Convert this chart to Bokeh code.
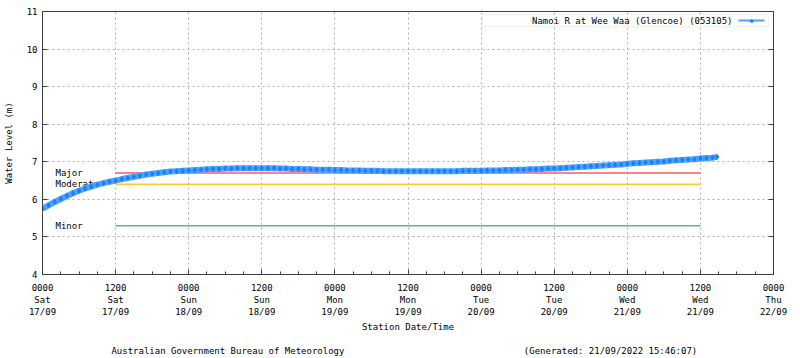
from bokeh.plotting import figure
from bokeh.layouts import column
from bokeh.models import (Range1d, FixedTicker, Label, Arrow, BoxAnnotation,
                          ColumnDataSource, LinearAxis)
from bokeh.core.properties import value
from bokeh.embed import file_html
from bokeh.resources import INLINE

# ---- data (hours since 0000 Sat 17/09/2022) ----
hours = list(range(0, 111)) + [110.75]
levels = [
    5.75, 5.84, 5.93, 6.01, 6.09, 6.16, 6.23, 6.29, 6.34, 6.39,
    6.43, 6.47, 6.50, 6.54, 6.57, 6.60, 6.63, 6.66, 6.68, 6.70,
    6.72, 6.74, 6.75, 6.76, 6.77, 6.78, 6.79, 6.80, 6.81, 6.81,
    6.82, 6.82, 6.83, 6.83, 6.83, 6.83, 6.83, 6.83, 6.83, 6.82,
    6.82, 6.81, 6.81, 6.80, 6.80, 6.79, 6.79, 6.79, 6.78, 6.78,
    6.77, 6.77, 6.77, 6.76, 6.76, 6.76, 6.75, 6.75, 6.75, 6.75,
    6.75, 6.75, 6.75, 6.75, 6.75, 6.75, 6.75, 6.75, 6.75, 6.76,
    6.76, 6.76, 6.76, 6.77, 6.77, 6.77, 6.78, 6.78, 6.79, 6.79,
    6.80, 6.80, 6.81, 6.82, 6.82, 6.83, 6.84, 6.85, 6.86, 6.87,
    6.88, 6.89, 6.90, 6.91, 6.92, 6.93, 6.95, 6.96, 6.97, 6.98,
    6.99, 7.00, 7.01, 7.03, 7.04, 7.05, 7.06, 7.07, 7.09, 7.10,
    7.11, 7.13,
]
series_name = "Namoi R at Wee Waa (Glencoe) (053105)"

threshold_names = ["Major", "Moderate", "Minor"]
threshold_levels = [6.7, 6.4, 5.3]
threshold_colors = ["#ff5a5a", "#ffc832", "#5cb87c"]
threshold_start = [12, 12, 12]
threshold_end = [108, 108, 108]

tick_hours = [0, 12, 24, 36, 48, 60, 72, 84, 96, 108, 120]
tick_labels = [
    "0000\nSat\n17/09", "1200\nSat\n17/09", "0000\nSun\n18/09",
    "1200\nSun\n18/09", "0000\nMon\n19/09", "1200\nMon\n19/09",
    "0000\nTue\n20/09", "1200\nTue\n20/09", "0000\nWed\n21/09",
    "1200\nWed\n21/09", "0000\nThu\n22/09",
]
minor_tick_hours = list(range(0, 121, 3))
y_ticks = [4, 5, 6, 7, 8, 9, 10, 11]

footer_left = "Australian Government Bureau of Meteorology"
footer_right = "(Generated: 21/09/2022 15:46:07)"

FONT = "DejaVu Sans Mono"
FS = "9px"

p = figure(width=800, height=340, output_backend="svg", toolbar_location=None,
           x_range=Range1d(0, 120), y_range=Range1d(4, 11),
           min_border_left=41, min_border_right=27, min_border_top=11,
           min_border_bottom=66)
p.background_fill_color = "white"
p.border_fill_color = "white"
p.outline_line_color = "#404040"
p.outline_line_width = 1

# axes
xax = p.xaxis[0]
xax.ticker = FixedTicker(ticks=tick_hours, minor_ticks=minor_tick_hours)
xax.major_label_overrides = {h: l for h, l in zip(tick_hours, tick_labels)}
xax.axis_label = "Station Date/Time"
yax = p.yaxis[0]
yax.ticker = FixedTicker(ticks=y_ticks, minor_ticks=[])
yax.axis_label = "Water Level (m)"
for ax in (xax, yax):
    ax.axis_line_color = "#404040"
    ax.major_tick_line_color = "#404040"
    ax.minor_tick_line_color = "#404040"
    ax.major_tick_in = 5
    ax.major_tick_out = 0
    ax.minor_tick_in = 3
    ax.minor_tick_out = 0
    ax.major_label_text_font = FONT
    ax.major_label_text_font_size = FS
    ax.major_label_text_color = "black"
    ax.axis_label_text_font = FONT
    ax.axis_label_text_font_size = FS
    ax.axis_label_text_font_style = "normal"
    ax.axis_label_text_color = "black"
xax.major_label_standoff = 8
xax.axis_label_standoff = 2
yax.major_label_standoff = 5
yax.axis_label_standoff = 10

rax = LinearAxis(ticker=FixedTicker(ticks=y_ticks, minor_ticks=[]),
                 major_label_overrides={t: "" for t in y_ticks},
                 major_tick_in=5, major_tick_out=0, minor_tick_in=0, minor_tick_out=0,
                 axis_line_color="#404040", major_tick_line_color="#404040",
                 major_label_text_font_size="1px")
p.add_layout(rax, "right")

p.xgrid.ticker = FixedTicker(ticks=tick_hours)
p.ygrid.ticker = FixedTicker(ticks=y_ticks)
for g in (p.xgrid[0], p.ygrid[0]):
    g.grid_line_color = "#b0b0b0"
    g.grid_line_dash = "2 3"
    g.grid_line_width = 1

# thresholds
tsrc = ColumnDataSource(dict(x0=threshold_start, x1=threshold_end,
                             y=threshold_levels, c=threshold_colors,
                             name=threshold_names, xl=[0] * len(threshold_names)))
p.segment(x0="x0", y0="y", x1="x1", y1="y", color="c", line_width=1.5, source=tsrc)
p.text(x="xl", y="y", text="name", source=tsrc, x_offset=13,
       text_font=value(FONT), text_font_size=FS, text_color="black",
       text_baseline="middle", text_align="left")

# series
src = ColumnDataSource(dict(x=hours, y=levels))
p.line("x", "y", source=src, line_color="#4da3ff", line_width=6)
p.scatter("x", "y", source=src, marker="diamond", size=5,
          fill_color="#1a7fff", line_color="#1a7fff")

# legend (drawn manually: label left, sample right)
p.add_layout(BoxAnnotation(left=481 - 41, right=767 - 41, top=274 - 14, bottom=274 - 26,
                           left_units="screen", right_units="screen",
                           top_units="screen", bottom_units="screen",
                           fill_alpha=0, line_color="#a0a0a0", line_dash="2 2", line_width=1))
p.add_layout(Label(x=731 - 41, y=274 - 20, x_units="screen", y_units="screen",
                   text=series_name, text_font=FONT, text_font_size=FS,
                   text_align="right", text_baseline="middle", text_color="black"))
p.add_layout(Arrow(x_start=737 - 41, y_start=274 - 20, x_end=763 - 41, y_end=274 - 20,
                   start_units="screen", end_units="screen", end=None,
                   line_color="#4da3ff", line_width=2))
p.add_layout(Label(x=750 - 41, y=274 - 20, x_units="screen", y_units="screen",
                   text="\u25c6", text_font=FONT, text_font_size="7px",
                   text_align="center", text_baseline="middle", text_color="#1a7fff"))

# footer strip (its frame is aligned with the main plot frame: 41..773 px)
f = figure(width=800, height=18, output_backend="svg", toolbar_location=None,
           x_range=Range1d(41, 773), y_range=Range1d(0, 18),
           min_border=0, x_axis_type=None, y_axis_type=None)
f.outline_line_color = None
f.grid.visible = False
f.add_layout(Label(x=110, y=8, text=footer_left, text_font=FONT, text_font_size=FS,
                   text_baseline="middle", text_color="black"))
f.add_layout(Label(x=523, y=8, text=footer_right, text_font=FONT, text_font_size=FS,
                   text_baseline="middle", text_color="black"))

layout = column(p, f, spacing=0)
open("out.html", "w").write(file_html(layout, INLINE))
